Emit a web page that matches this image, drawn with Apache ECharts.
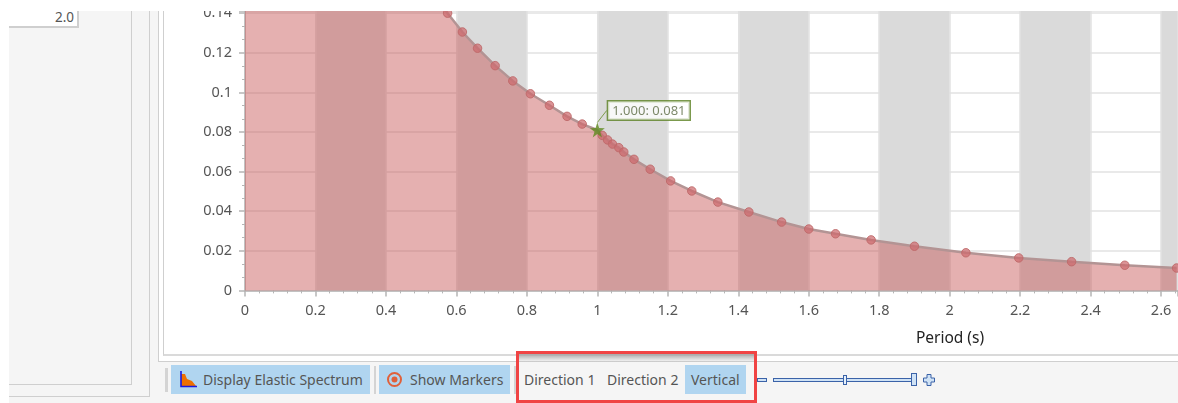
<!DOCTYPE html>
<html><head><meta charset="utf-8">
<script src="https://cdn.jsdelivr.net/npm/echarts@6/dist/echarts.min.js"></script>
<style>
html,body{margin:0;padding:0;background:#fff;overflow:hidden}
body{width:1178px;height:403px;position:relative;font-family:"Noto Sans",sans-serif;font-size:14px;color:#555}
.a{position:absolute;box-sizing:border-box}
.btn{background:#b0d5f0;top:365px;height:29px}
.t{position:absolute;top:365px;height:29px;line-height:29px;white-space:nowrap;font-size:14px;color:#555}
</style></head><body>
<div class="a" style="left:9px;top:11px;width:1169px;height:392px;background:#f5f5f5"></div>
<div class="a" style="left:9px;top:11px;width:141px;height:386px;border-right:1px solid #cfcfcf;border-bottom:1px solid #cfcfcf"></div>
<div class="a" style="left:9px;top:11px;width:123px;height:374px;border-right:1px solid #cfcfcf;border-bottom:1px solid #cfcfcf"></div>
<div class="a" style="left:9px;top:11px;width:70px;height:17px;background:#fff;border-right:2px solid #cfcfcf;border-bottom:2px solid #cfcfcf;text-align:right;padding-right:3px;line-height:12px;font-size:13.500px" id="inp">2.0</div>
<div class="a" style="left:158px;top:11px;width:1020px;height:351px;background:#fff;border-left:1px solid #cfcfcf;border-bottom:1px solid #cfcfcf"></div>
<div class="a" style="left:163px;top:11px;width:1015px;height:345px;background:#fff;border-left:1px solid #cfcfcf;border-bottom:2px solid #dadada"></div>
<div id="chart" class="a" style="left:164px;top:11px;width:1014px;height:344px"></div>

<div class="a" style="left:165px;top:368px;width:3px;height:24px;background:#d4d4d4"></div>
<div class="a btn" style="left:171px;width:199px"></div>
<svg class="a" style="left:178px;top:370px" width="20" height="19" viewBox="0 0 20 19">
<path d="M3 3V16H18L14 11L9 9L7 4H3Z" fill="#f07000"/>
<path d="M3 1V16.500H19" fill="none" stroke="#1a1ae0" stroke-width="1.600"/></svg>
<div class="t" style="left:203px" id="b1">Display Elastic Spectrum</div>
<div class="a" style="left:374px;top:366px;width:2px;height:28px;background:#d4d4d4"></div>
<div class="a btn" style="left:379px;width:131px"></div>
<svg class="a" style="left:386px;top:371px" width="17" height="17" viewBox="0 0 17 17">
<circle cx="8.500" cy="8.500" r="6.500" fill="none" stroke="#e0603a" stroke-width="2"/>
<circle cx="8.500" cy="8.500" r="3" fill="#e0603a"/></svg>
<div class="t" style="left:410px" id="b2">Show Markers</div>
<div class="a" style="left:514px;top:366px;width:2px;height:28px;background:#d4d4d4"></div>
<div class="t" style="left:524px" id="b3">Direction 1</div>
<div class="t" style="left:607px" id="b4">Direction 2</div>
<div class="a btn" style="left:685px;width:61px"></div>
<div class="t" style="left:691px" id="b5">Vertical</div>

<div class="a" style="left:757px;top:378px;width:10px;height:4px;background:#cfe2f5;border:1px solid #3a62a8"></div>
<div class="a" style="left:773px;top:378px;width:141px;height:4px;background:#cfe2f5;border:1px solid #3a62a8"></div>
<div class="a" style="left:843px;top:375px;width:4px;height:10px;background:#e6f0fa;border:1px solid #3a62a8"></div>
<div class="a" style="left:911px;top:373px;width:6px;height:13px;background:#cfe2f5;border:1px solid #3a62a8"></div>
<svg class="a" style="left:923px;top:374px" width="12" height="12" viewBox="0 0 12 12"><path d="M4 .5H8V4H11.500V8H8V11.500H4V8H.5V4H4Z" fill="#cfe2f5" stroke="#3a62a8"/></svg>

<div class="a" style="left:516px;top:351px;width:241px;height:52px;border:3px solid #f04444"></div>
<div class="a" style="left:519px;top:354px;width:235px;height:8px;background:linear-gradient(#aaa,rgba(200,200,200,0.1))"></div>

<script>
const periods=[0,0.5,0.54,0.575,0.617,0.66,0.71,0.76,0.81,0.864,0.914,0.957,1.0,1.014,1.029,1.043,1.061,1.075,1.104,1.15,1.208,1.268,1.342,1.43,1.523,1.6,1.676,1.777,1.9,2.046,2.196,2.346,2.497,2.644];
const values=[0.162,0.162,0.15,0.14,0.1305,0.1223,0.1135,0.1058,0.0993,0.0935,0.0879,0.084,0.081,0.0783,0.076,0.0739,0.0721,0.0699,0.0662,0.0612,0.0553,0.0502,0.0446,0.0396,0.0345,0.031,0.0286,0.0255,0.0223,0.019,0.0164,0.0145,0.0127,0.0113];
const starPeriod=[1.0];
const starValue=[0.081];
const starLabel="1.000: 0.081";
const xName="Period (s)";
const font='"Noto Sans",sans-serif';
const axisGrey='#b5b5b5', gridGrey='#e2e2e2', labelGrey='#555';
const chart=echarts.init(document.getElementById('chart'),null,{renderer:'canvas'});
chart.setOption({
  animation:false,
  title:{text:xName,left:781,top:315,textAlign:'center',textStyle:{fontFamily:font,fontSize:15.500,fontWeight:'normal',color:'#222'}},
  grid:{left:81,right:0,top:0,height:279.4,containLabel:false,outerBoundsMode:'none'},
  xAxis:{type:'value',min:0,max:2.648,interval:0.2,
    axisLine:{onZero:false,lineStyle:{color:axisGrey,width:1.5}},
    axisTick:{show:true,length:6,lineStyle:{color:axisGrey,width:1.5}},
    minorTick:{show:true,splitNumber:5,length:3,lineStyle:{color:axisGrey}},
    axisLabel:{showMaxLabel:false,margin:13,fontFamily:font,fontSize:14.5,color:labelGrey,hideOverlap:false},
    splitLine:{show:true,lineStyle:{color:gridGrey,width:1.5}},
    splitArea:{show:true,areaStyle:{color:['rgba(0,0,0,0)','#dadada']}}},
  yAxis:{type:'value',min:0,max:0.1411,interval:0.02,
    axisLine:{show:true,onZero:false,lineStyle:{color:axisGrey,width:1.5}},
    axisTick:{show:true,length:6,lineStyle:{color:axisGrey,width:1.5}},
    minorTick:{show:true,splitNumber:3,length:3,lineStyle:{color:axisGrey}},
    axisLabel:{showMaxLabel:false,margin:13,fontFamily:font,fontSize:14.5,color:labelGrey},
    splitLine:{show:true,lineStyle:{color:gridGrey,width:1.5}}},
  series:[
    {type:'line',data:periods.map((p,i)=>[p,values[i]]),smooth:false,
     symbol:v=>(v[0]<0.57||v[0]===starPeriod[0])?'none':'circle',symbolSize:8.5,showAllSymbol:true,
     lineStyle:{color:'#b39494',width:2.500},
     itemStyle:{color:'rgba(205,105,110,0.72)',borderColor:'rgba(190,105,105,0.9)',borderWidth:1},
     areaStyle:{color:'rgb(198,83,83)',opacity:0.46},z:3},
    {type:'scatter',data:starPeriod.map((p,i)=>[p,starValue[i]]),symbol:'path://M50 0L62 35L100 36L69 58L81 95L50 72L19 95L31 58L0 36L38 35Z',symbolSize:15,
     itemStyle:{color:'#5f8a1e'},z:5,
     label:{show:true,position:'top',formatter:()=>starLabel,fontFamily:font,fontSize:13,color:'#5d6b45',backgroundColor:'#fff',borderColor:'#5a7f20',borderWidth:1.5,padding:[3,4,2,4]},
     labelLayout:{dx:51.5,dy:2},
     labelLine:{show:true,lineStyle:{color:'#7d9c4a',width:1}}}
  ]
});
</script>
</body></html>
